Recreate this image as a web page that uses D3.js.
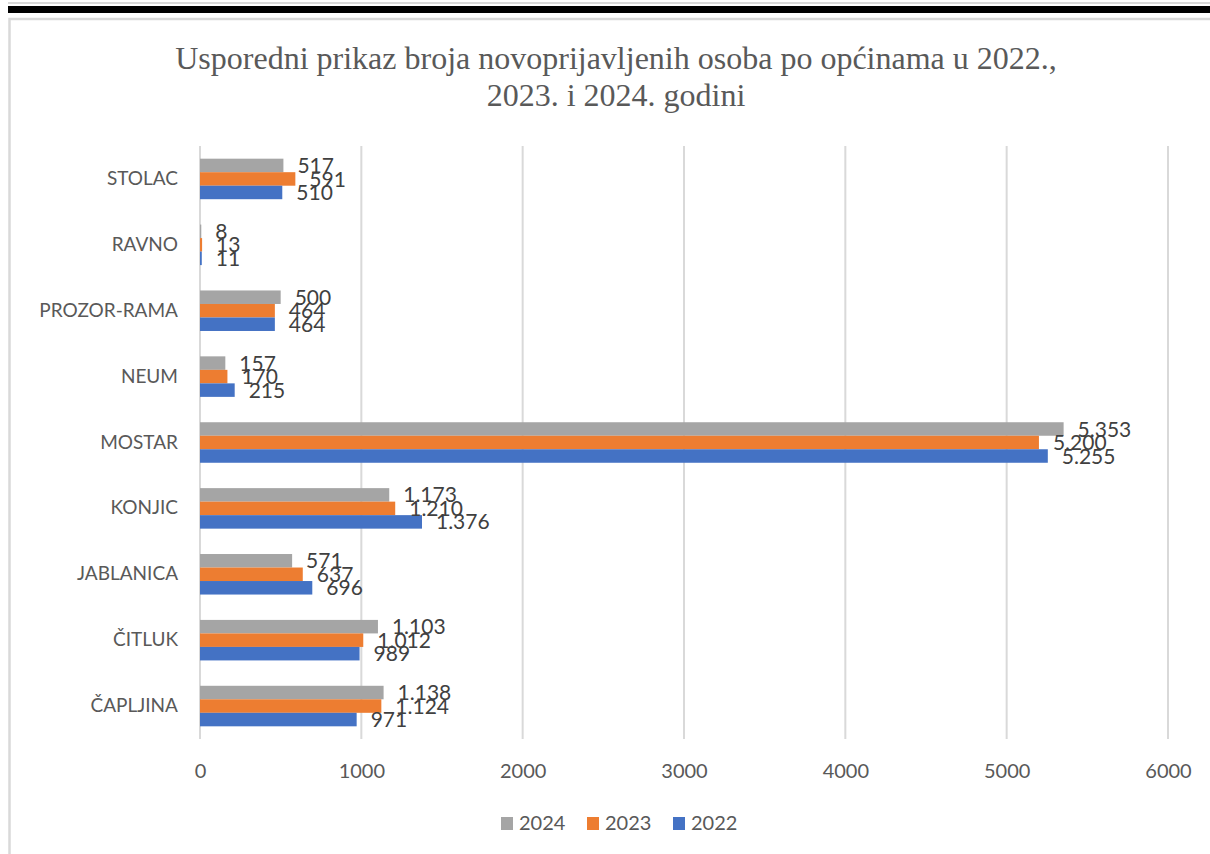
<!DOCTYPE html>
<html>
<head>
<meta charset="utf-8">
<script src="https://cdn.jsdelivr.net/npm/d3@7"></script>
<style>
  html, body { margin: 0; padding: 0; background: #fff; }
  svg { display: block; }
</style>
</head>
<body>
<svg id="chart" width="1210" height="854"></svg>
<script>
// data
const categories = ["STOLAC", "RAVNO", "PROZOR-RAMA", "NEUM", "MOSTAR", "KONJIC", "JABLANICA", "ČITLUK", "ČAPLJINA"];
const seriesNames = ["2024", "2023", "2022"];
const values2024 = [517, 8, 500, 157, 5353, 1173, 571, 1103, 1138];
const values2023 = [591, 13, 464, 170, 5200, 1210, 637, 1012, 1124];
const values2022 = [510, 11, 464, 215, 5255, 1376, 696, 989, 971];
const xTicks = [0, 1000, 2000, 3000, 4000, 5000, 6000];
const titleLines = ["Usporedni prikaz broja novoprijavljenih osoba po općinama u 2022.,", "2023. i 2024. godini"];

const colors = { "2024": "#A5A5A5", "2023": "#ED7D31", "2022": "#4472C4" };
const seriesValues = { "2024": values2024, "2023": values2023, "2022": values2022 };

const svg = d3.select("#chart");
const font = "Lato, 'Open Sans', sans-serif";
const numFmt = d3.formatLocale({ decimal: ",", thousands: ".", grouping: [3], currency: ["", ""] }).format(",d");

// 1) outer decoration: black bar at top + light frame
svg.append("rect").attr("x", 8).attr("y", 2).attr("width", 1202).attr("height", 2).attr("fill", "#d9d9d9");
svg.append("rect").attr("x", 8).attr("y", 6).attr("width", 1202).attr("height", 7).attr("fill", "#000");
svg.append("rect")
  .attr("x", 9.5).attr("y", 19)
  .attr("width", 1220).attr("height", 860)
  .attr("fill", "none").attr("stroke", "#d9d9d9").attr("stroke-width", 2.5);

// 2) title
svg.append("g").selectAll("text")
  .data(titleLines)
  .join("text")
    .attr("x", 616)
    .attr("y", (d, i) => 69 + i * 37)
    .attr("text-anchor", "middle")
    .style("font-family", "'Liberation Serif', 'Times New Roman', serif")
    .style("font-size", "32px")
    .style("fill", "#595959")
    .text(d => d);

// 3) scales
const margin = { left: 200, right: 1168, top: 146, bottom: 739 };
const x = d3.scaleLinear().domain([0, 6000]).range([margin.left, margin.right]);
const y = d3.scaleBand().domain(categories).range([margin.top, margin.bottom])
  .paddingInner(0.385).paddingOuter(0.1925);
const ySub = d3.scaleBand().domain(seriesNames).range([0, y.bandwidth()]);

// 4) gridlines
svg.append("g").selectAll("line")
  .data(xTicks)
  .join("line")
    .attr("x1", d => x(d)).attr("x2", d => x(d))
    .attr("y1", margin.top).attr("y2", margin.bottom)
    .attr("stroke", "#d9d9d9").attr("stroke-width", 2);

// x tick labels via axis
const xAxis = svg.append("g")
  .attr("transform", `translate(0, ${margin.bottom})`)
  .call(d3.axisBottom(x).tickValues(xTicks).tickFormat(d3.format("d")).tickSize(0).tickPadding(25));
xAxis.select(".domain").remove();
xAxis.selectAll("text")
  .style("font-family", font).style("font-size", "20px").attr("fill", "#595959");

// y category labels via axis
const yAxis = svg.append("g")
  .attr("transform", `translate(${margin.left}, 0)`)
  .call(d3.axisLeft(y).tickSize(0).tickPadding(22));
yAxis.select(".domain").remove();
yAxis.selectAll("text")
  .style("font-family", font).style("font-size", "19px").attr("fill", "#595959");

// 5) bars + labels
const rows = [];
categories.forEach((c, i) => {
  seriesNames.forEach(s => rows.push({ cat: c, series: s, value: seriesValues[s][i] }));
});

svg.append("g").selectAll("rect")
  .data(rows)
  .join("rect")
    .attr("x", x(0))
    .attr("y", d => y(d.cat) + ySub(d.series))
    .attr("width", d => x(d.value) - x(0))
    .attr("height", ySub.bandwidth())
    .attr("fill", d => colors[d.series]);

svg.append("g").selectAll("text")
  .data(rows)
  .join("text")
    .attr("x", d => x(d.value) + 14)
    .attr("y", d => y(d.cat) + ySub(d.series) + ySub.bandwidth() / 2)
    .attr("dy", "0.36em")
    .style("font-family", font)
    .style("font-size", "21px")
    .style("fill", "#404040")
    .text(d => numFmt(d.value));

// 6) legend
const legend = svg.append("g").attr("transform", "translate(501, 817)");
const item = legend.selectAll("g")
  .data(seriesNames)
  .join("g")
    .attr("transform", (d, i) => `translate(${i * 86}, 0)`);
item.append("rect")
  .attr("width", 12).attr("height", 13)
  .attr("fill", d => colors[d]);
item.append("text")
  .attr("x", 18).attr("y", 13)
  .style("font-family", font).style("font-size", "20px")
  .style("fill", "#595959")
  .text(d => d);
</script>
</body>
</html>
